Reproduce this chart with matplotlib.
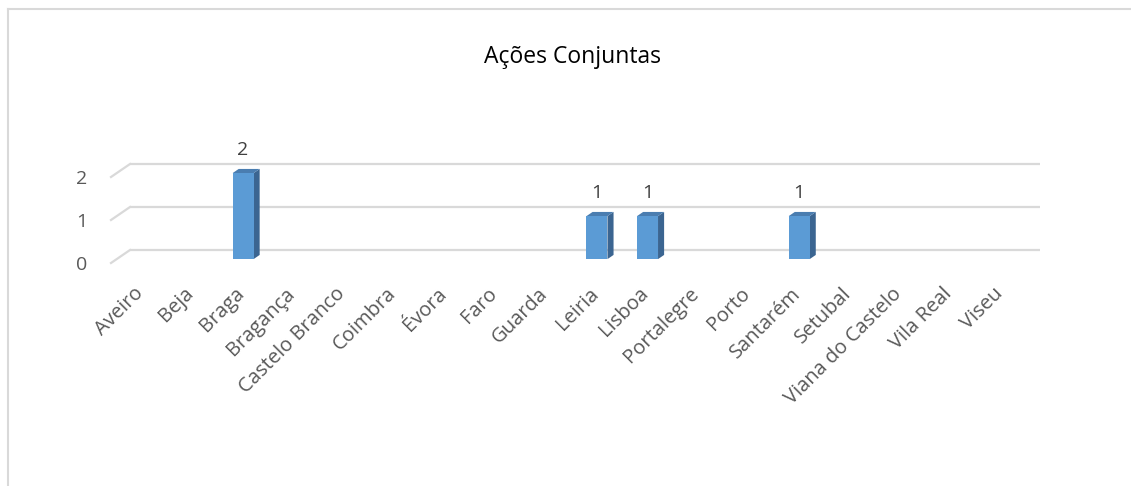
import matplotlib
matplotlib.use('Agg')
import matplotlib.pyplot as plt
from matplotlib.patches import Polygon
from matplotlib.lines import Line2D

# data
categories = ['Aveiro', 'Beja', 'Braga', 'Bragança', 'Castelo Branco', 'Coimbra',
              'Évora', 'Faro', 'Guarda', 'Leiria', 'Lisboa', 'Portalegre', 'Porto',
              'Santarém', 'Setubal', 'Viana do Castelo', 'Vila Real', 'Viseu']
values = [0, 0, 2, 0, 0, 0, 0, 0, 0, 1, 1, 0, 0, 1, 0, 0, 0, 0]
y_ticks = [0, 1, 2]
title = 'Ações Conjuntas'

plt.rcParams['font.family'] = ['Open Sans', 'DejaVu Sans']

W, H = 1131, 486
fig = plt.figure(figsize=(W / 100, H / 100), dpi=100)
# plot area = front floor of the 3D box
ax = fig.add_axes([111 / W, (H - 263) / H, 910 / W, 129 / H])
n = len(categories)
ax.set_xlim(-0.5, n - 0.5)
ax.set_ylim(0, 3)
for s in ax.spines.values():
    s.set_visible(False)

# depth of the box (data units) and where the bars sit in it
DX, DY = 19 / 50.55, 13 / 43
f0, f1 = 0.30, 0.62
bw = 0.415
grid_c = '#d9d9d9'

for v in y_ticks:
    ax.plot([-0.5 + DX, n - 0.5 + DX], [v + DY, v + DY], color=grid_c, lw=1.6,
            clip_on=False, zorder=1, solid_capstyle='butt')
    ax.plot([-0.5, -0.5 + DX], [v, v + DY], color=grid_c, lw=1.6,
            clip_on=False, zorder=1)

front_c, top_c, side_c = '#5B9BD5', '#4A7DB0', '#3B6591'
for i, v in enumerate(values):
    if v == 0:
        continue
    x0 = i - bw / 2 + f0 * DX
    x1 = i + bw / 2 + f0 * DX
    y0 = f0 * DY
    y1 = v + f0 * DY
    ddx, ddy = (f1 - f0) * DX, (f1 - f0) * DY
    ax.add_patch(Polygon([(x1, y0), (x1 + ddx, y0 + ddy), (x1 + ddx, y1 + ddy), (x1, y1)],
                         closed=True, fc=side_c, ec='none', zorder=3, clip_on=False))
    ax.add_patch(Polygon([(x0, y1), (x1, y1), (x1 + ddx, y1 + ddy), (x0 + ddx, y1 + ddy)],
                         closed=True, fc=top_c, ec='none', zorder=3, clip_on=False))
    ax.add_patch(Polygon([(x0, y0), (x1, y0), (x1, y1), (x0, y1)],
                         closed=True, fc=front_c, ec='none', zorder=4, clip_on=False))
    ax.text((x0 + x1) / 2, y1 + ddy + 0.22, str(v), ha='center', va='bottom',
            fontsize=14, color='#404040', clip_on=False)

ax.set_xticks([i + 0.08 for i in range(n)])
ax.set_xticklabels(categories, rotation=45, ha='right', va='center',
                   rotation_mode='anchor', fontsize=14.5, color='#595959')
ax.set_yticks(y_ticks)
ax.set_yticklabels([str(t) for t in y_ticks], fontsize=14, color='#595959')
ax.tick_params(axis='x', length=0, pad=20)
ax.tick_params(axis='y', length=0, pad=17)

fig.text(572 / W, 1 - 57 / H, title, ha='center', va='center', fontsize=16.5, color='black')

# chart border (left and top edges are visible)
fig.add_artist(Line2D([8 / W, 8 / W], [0, 1 - 9 / H], color='#d9d9d9', lw=1.5,
                      transform=fig.transFigure))
fig.add_artist(Line2D([8 / W, 1], [1 - 9 / H, 1 - 9 / H], color='#d9d9d9', lw=1.5,
                      transform=fig.transFigure))

fig.savefig('out.png', dpi=100, facecolor='white')
